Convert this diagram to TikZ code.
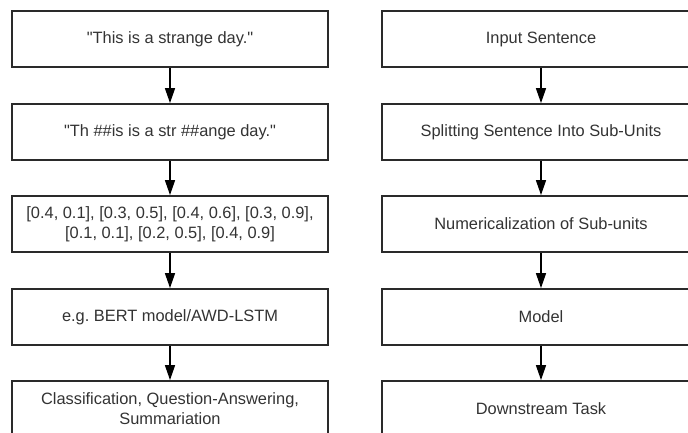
\documentclass[tikz,border=0pt]{standalone}
\usepackage{fontspec}
\setmainfont{Liberation Sans}[Ligatures=TeXOff]
\usetikzlibrary{arrows.meta}
\frenchspacing
\definecolor{boxline}{HTML}{2A2A2A}
\definecolor{txt}{HTML}{333333}
\tikzset{
  stepbox/.style={draw=boxline, line width=1.8pt, fill=white, rectangle,
    minimum height=56pt, inner sep=0pt, align=center, text=txt,
    font=\fontsize{16.4pt}{20pt}\selectfont},
  leftbox/.style={stepbox, minimum width=316pt},
  rightbox/.style={stepbox, minimum width=318pt},
  flow/.style={draw=black, line width=1.5pt, -{Triangle[length=15pt,width=10pt]}}
}
\begin{document}
\begin{tikzpicture}[x=1pt,y=1pt]
  \useasboundingbox (0,0) rectangle (688,-433);
  \clip (0,0) rectangle (688,-433);
  % example pipeline
  \node[leftbox] (l1) at (170,-39)  {"This is a strange day."};
  \node[leftbox] (l2) at (170,-132) {"Th \#\#is is a str \#\#ange day."};
  \node[leftbox] (l3) at (170,-224) {[0.4, 0.1], [0.3, 0.5], [0.4, 0.6], [0.3, 0.9],\\{}[0.1, 0.1], [0.2, 0.5], [0.4, 0.9]};
  \node[leftbox] (l4) at (170,-317) {e.g. BERT model/AWD-LSTM};
  \node[leftbox] (l5) at (170,-409) {Classification, Question-Answering,\\ Summariation};
  % generic pipeline
  \node[rightbox] (r1) at (541,-39)  {Input Sentence};
  \node[rightbox] (r2) at (541,-132) {Splitting Sentence Into Sub-Units};
  \node[rightbox] (r3) at (541,-224) {Numericalization of Sub-units};
  \node[rightbox] (r4) at (541,-317) {Model};
  \node[rightbox] (r5) at (541,-409) {Downstream Task};
  \foreach \a/\b in {l1/l2,l2/l3,l3/l4,l4/l5,r1/r2,r2/r3,r3/r4,r4/r5}
    \draw[flow] (\a.south) -- (\b.north);
\end{tikzpicture}
\end{document}
